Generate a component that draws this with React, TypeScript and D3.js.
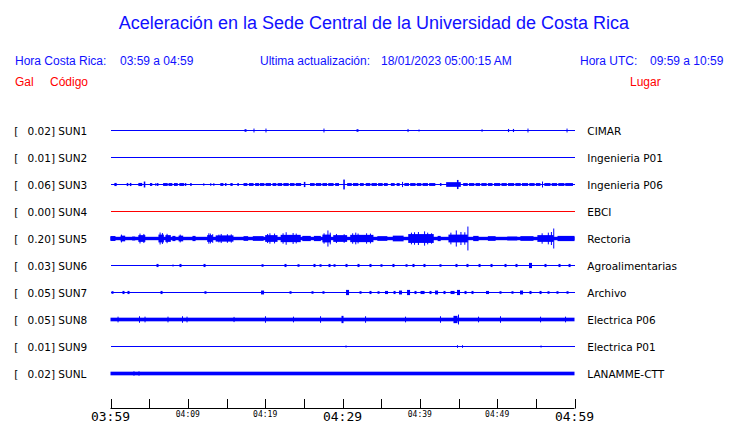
import React from "react";
import * as d3 from "d3";

const W = 740;
const H = 423;

const codes = ["SUN1", "SUN2", "SUN3", "SUN4", "SUN5", "SUN6", "SUN7", "SUN8", "SUN9", "SUNL"];
const peaks = ["0.02", "0.01", "0.06", "0.00", "0.20", "0.03", "0.05", "0.05", "0.01", "0.02"];
const places = ["CIMAR", "Ingenieria P01", "Ingenieria P06", "EBCI", "Rectoria", "Agroalimentarias", "Archivo", "Electrica P06", "Electrica P01", "LANAMME-CTT"];
const traceColors = ["#0000ff", "#0000ff", "#0000ff", "#ff0000", "#0000ff", "#0000ff", "#0000ff", "#0000ff", "#0000ff", "#0000ff"];
// background noise level (relative amplitude) of each trace
const baseAmp = [0, 0, 0, 0, 0.13, 0, 0, 0.14, 0, 0.14];

const tickMinutes = [0, 5, 10, 15, 20, 25, 30, 35, 40, 45, 50, 55, 60];
const labelMinutes = [0, 10, 20, 30, 40, 50, 60];
const tickLabels = ["03:59", "04:09", "04:19", "04:29", "04:39", "04:49", "04:59"];
const bigLabels = ["03:59", "04:29", "04:59"];

// events: [minutes after 03:59, duration (min), relative amplitude]
const sun1Events = [
  [17.46, 0.25, 0.1], [18.49, 0, 0.15], [20.04, 0, 0.15], [27.54, 0, 0.15], [31.94, 0.25, 0.1],
  [38.41, 0, 0.12], [39.83, 0, 0.08], [47.98, 0, 0.1], [51.47, 0.15, 0.12], [52.11, 0.15, 0.12],
  [53.92, 0, 0.15], [58.97, 0, 0.15],
];
const sun2Events: number[][] = [];
const sun3Events = [
  [0.65, 0.3, 0.12], [2.2, 0.2, 0.12], [2.6, 0.2, 0.12], [3.85, 0.5, 0.12], [4.4, 0.2, 0.23],
  [5.25, 0.3, 0.11], [5.85, 0.1, 0.11], [6.1, 0.2, 0.11], [7.1, 0.6, 0.11], [7.75, 0.5, 0.11],
  [8.45, 0.5, 0.11], [9.2, 0.6, 0.11], [9.7, 0.2, 0.11], [10.4, 0.2, 0.11], [12.05, 0.1, 0.1],
  [12.95, 0.1, 0.11], [13.35, 0.1, 0.11], [14.4, 0.4, 0.11], [14.9, 0.2, 0.11], [15.65, 0.3, 0.11],
  [16.5, 0.2, 0.11], [17.45, 0.5, 0.11], [18.2, 0.6, 0.11], [18.95, 0.5, 0.11], [19.6, 0.6, 0.11],
  [20.4, 0.7, 0.11], [21.2, 0.5, 0.11], [21.9, 0.6, 0.11], [22.7, 0.7, 0.11], [23.5, 0.6, 0.11],
  [24.3, 0.7, 0.11], [25.1, 0.2, 0.2], [26.1, 0.6, 0.11], [26.9, 0.7, 0.11], [27.7, 0.6, 0.11],
  [28.5, 0.7, 0.11], [29.3, 0.5, 0.11], [30.2, 0.2, 0.38], [30.9, 0.6, 0.11], [31.7, 0.7, 0.11],
  [32.5, 0.5, 0.11], [33.3, 0.6, 0.11], [34.1, 0.7, 0.11], [34.9, 0.6, 0.11], [35.6, 0.5, 0.11],
  [36.5, 0.5, 0.11], [37.2, 0.4, 0.11], [37.75, 0.1, 0.2], [38.3, 0.6, 0.11], [39.1, 0.7, 0.11],
  [39.9, 0.6, 0.11], [40.7, 0.7, 0.11], [41.6, 0.8, 0.11], [42.7, 0.2, 0.11], [44.35, 1.9, 0.18],
  [44.9, 0.2, 0.35], [45.9, 0.6, 0.11], [46.7, 0.7, 0.11], [47.5, 0.6, 0.11], [48.3, 0.7, 0.11],
  [49.1, 0.6, 0.11], [50.0, 0.8, 0.11], [50.9, 0.7, 0.11], [51.8, 0.8, 0.11], [52.7, 0.7, 0.11],
  [53.6, 0.8, 0.11], [54.5, 0.7, 0.11], [55.3, 0.6, 0.11], [55.85, 0.1, 0.23], [56.5, 0.8, 0.11],
  [57.4, 0.7, 0.11], [58.3, 0.8, 0.11], [59.3, 1.0, 0.11],
];
const sun4Events: number[][] = [];
const sun5Events = [
  [0.32, 0.65, 0.19], [1.6, 0.6, 0.22], [3.0, 0.4, 0.15], [4.05, 0.9, 0.26], [6.55, 0.7, 0.3],
  [6.4, 0.1, 0.46], [7.45, 0.7, 0.26], [8.2, 0.4, 0.2], [9.1, 0.6, 0.22], [10.8, 0.4, 0.2],
  [12.85, 0.7, 0.26], [12.7, 0.1, 0.4], [14.75, 2.3, 0.24], [14.3, 0.1, 0.35], [15.1, 0.1, 0.33],
  [17.5, 0.6, 0.18], [19.1, 1.4, 0.18], [20.8, 1.6, 0.26], [20.6, 0.1, 0.4], [23.3, 2.6, 0.28],
  [22.7, 0.1, 0.48], [23.6, 0.1, 0.42], [25.35, 1.1, 0.2], [26.75, 0.9, 0.2], [27.95, 1.1, 0.3],
  [28.1, 0.1, 0.62], [29.7, 1.8, 0.26], [32.5, 3.0, 0.28], [31.7, 0.1, 0.45], [33.1, 0.1, 0.4],
  [35.15, 1.3, 0.18], [37.2, 1.4, 0.22], [40.15, 3.3, 0.34], [40.6, 0.1, 0.55], [39.3, 0.1, 0.48],
  [42.5, 0.4, 0.2], [44.95, 2.5, 0.3], [44.7, 0.1, 0.62], [46.2, 0.1, 0.92], [47.25, 0.7, 0.2],
  [49.3, 1.0, 0.18], [51.95, 1.3, 0.15], [53.85, 1.7, 0.18], [56.25, 2.1, 0.26], [57.3, 0.1, 0.77],
  [58.9, 2.2, 0.2],
  [1.4, 0.1, 0.3], [3.8, 0.1, 0.38], [4.3, 0.1, 0.35], [6.7, 0.1, 0.42], [7.3, 0.1, 0.36],
  [9.0, 0.1, 0.3], [12.9, 0.1, 0.38], [13.2, 0.1, 0.33], [14.0, 0.1, 0.3], [15.6, 0.1, 0.32],
  [20.3, 0.1, 0.35], [21.2, 0.1, 0.38], [22.3, 0.1, 0.4], [24.0, 0.1, 0.38], [27.6, 0.1, 0.4],
  [28.4, 0.1, 0.45], [29.2, 0.1, 0.35], [30.2, 0.1, 0.33], [31.3, 0.1, 0.4], [32.0, 0.1, 0.38],
  [33.6, 0.1, 0.38], [38.9, 0.1, 0.45], [39.8, 0.1, 0.5], [41.0, 0.1, 0.45], [41.5, 0.1, 0.4],
  [44.0, 0.1, 0.45], [45.3, 0.1, 0.5], [45.8, 0.1, 0.48], [55.8, 0.1, 0.4], [56.6, 0.1, 0.45],
  [57.0, 0.1, 0.5],
];
const sun6Events = [
  [6.08, 0.26, 0.12], [8.02, 0, 0.08], [9.05, 0.26, 0.12], [12.16, 0.26, 0.12], [19.66, 0.26, 0.1],
  [22.63, 0.26, 0.12], [24.31, 0.26, 0.1], [26.38, 0.26, 0.12], [27.16, 0.26, 0.1], [28.32, 0.26, 0.12],
  [28.97, 0.26, 0.1], [30.52, 0.26, 0.12], [32.07, 0.26, 0.12], [33.62, 0.26, 0.12], [35.04, 0.26, 0.1],
  [36.59, 0.26, 0.12], [38.28, 0.26, 0.1], [39.18, 0.26, 0.12], [40.6, 0.26, 0.12], [42.67, 0.26, 0.1],
  [44.74, 0.26, 0.12], [46.16, 0.26, 0.12], [47.72, 0.26, 0.12], [49.27, 0.26, 0.12], [51.08, 0.26, 0.12],
  [52.5, 0.26, 0.12], [54.31, 0.39, 0.2], [56.25, 0.26, 0.12], [58.06, 0.26, 0.12], [59.36, 0.26, 0.12],
];
const sun7Events = [
  [0.26, 0.26, 0.1], [1.68, 0.26, 0.12], [2.33, 0.26, 0.12], [6.6, 0.26, 0.12], [12.28, 0.26, 0.1],
  [19.66, 0.39, 0.15], [23.28, 0.26, 0.1], [26.12, 0.26, 0.1], [27.54, 0.26, 0.1], [30.65, 0.39, 0.2],
  [32.33, 0.26, 0.1], [33.62, 0.26, 0.12], [34.66, 0.26, 0.1], [35.69, 0.39, 0.12], [36.73, 0.26, 0.12],
  [37.5, 0.39, 0.15], [38.54, 0.39, 0.2], [39.44, 0.26, 0.12], [40.35, 0.52, 0.12], [41.38, 0.26, 0.12],
  [42.16, 0.39, 0.15], [43.19, 0.26, 0.12], [44.23, 0.52, 0.12], [45.0, 0.39, 0.2], [45.91, 0.26, 0.12],
  [46.81, 0.26, 0.12], [48.75, 0.39, 0.12], [50.43, 0.26, 0.1], [51.98, 0.26, 0.1], [53.15, 0.39, 0.15],
  [54.31, 0.26, 0.12], [55.61, 0.26, 0.12], [56.64, 0.26, 0.1], [57.8, 0.26, 0.1], [59.1, 0.26, 0.1],
];
const sun8Events = [
  [0.91, 0, 0.22], [3.75, 0.13, 0.25], [4.4, 0, 0.22], [7.37, 0, 0.22], [9.31, 0.13, 0.25],
  [9.83, 0, 0.22], [15.91, 0, 0.2], [20.04, 0.13, 0.25], [23.66, 0.13, 0.22], [27.16, 0.13, 0.25],
  [30.0, 0.26, 0.28], [32.98, 0.13, 0.25], [38.15, 0.13, 0.22], [42.67, 0.13, 0.25], [44.61, 0.52, 0.28],
  [45.0, 0.13, 0.38], [47.59, 0.13, 0.22], [50.43, 0.13, 0.25], [55.61, 0.13, 0.22], [58.84, 0.13, 0.22],
];
const sun9Events = [
  [30.39, 0, 0.08], [44.87, 0.13, 0.1], [45.52, 0.13, 0.1], [55.61, 0, 0.08],
];
const sunLEvents = [
  [2.97, 0, 0.17], [3.62, 0, 0.17],
];
const allEvents = [sun1Events, sun2Events, sun3Events, sun4Events, sun5Events, sun6Events, sun7Events, sun8Events, sun9Events, sunLEvents];

const SANS = "'Liberation Sans', Arial, Helvetica, sans-serif";
const DV = "'DejaVu Sans', sans-serif";
const MONO = "'DejaVu Sans Mono', monospace";
const BLUE = "#1010ff";
const RED = "#ff0000";

export default function App() {
  const x = d3.scaleLinear().domain([0, 60]).range([110.5, 574.5]);
  const y = d3.scalePoint<string>().domain(codes).range([130.5, 373.5]);
  const amp = d3.scaleLinear().domain([0, 1]).range([0, 13]);
  const axisY = 408.5;

  return (
    <svg width={W} height={H} style={{ position: "absolute", left: 0, top: 0, background: "#fff" }}>
      <rect x={0} y={0} width={W} height={H} fill="#fff" />
      <text x={374} y={29} textAnchor="middle" fontFamily={SANS} fontSize={18} fill={BLUE}>
        Aceleración en la Sede Central de la Universidad de Costa Rica
      </text>
      <g fontFamily={SANS} fontSize={12} fill={BLUE}>
        <text x={15} y={65}>Hora Costa Rica:</text>
        <text x={120} y={65}>03:59 a 04:59</text>
        <text x={260} y={65}>Ultima actualización:</text>
        <text x={381} y={65}>18/01/2023 05:00:15 AM</text>
        <text x={580} y={65}>Hora UTC:</text>
        <text x={650} y={65}>09:59 a 10:59</text>
      </g>
      <g fontFamily={SANS} fontSize={12} fill={RED}>
        <text x={15} y={86}>Gal</text>
        <text x={50} y={86}>Código</text>
        <text x={630} y={86}>Lugar</text>
      </g>

      {codes.map((c, i) => {
        const cy = y(c) as number;
        const col = traceColors[i];
        const b = baseAmp[i];
        return (
          <g key={c}>
            <g fontFamily={DV} fontSize={10.5} fill="#000">
              <text x={14.3} y={cy + 4}>[</text>
              <text x={27.5} y={cy + 4}>{peaks[i]}] {c}</text>
              <text x={587.3} y={cy + 4}>{places[i]}</text>
            </g>
            {b > 0 ? (
              <rect x={x(0)} y={cy - amp(b)} width={x(60) - x(0)} height={2 * amp(b)} fill={col} />
            ) : (
              <line x1={x(0)} x2={x(60)} y1={cy} y2={cy} stroke={col} strokeWidth={1} shapeRendering="crispEdges" />
            )}
            {allEvents[i].map((e, j) => {
              const [t, d, a] = e;
              const x0 = x(t - d / 2);
              const w = Math.max(1, x(t + d / 2) - x0);
              const h = Math.max(1, amp(a));
              return <rect key={j} x={x0} y={cy - h} width={w} height={2 * h} fill={col} />;
            })}
          </g>
        );
      })}

      <g>
        <line x1={x(0)} x2={x(60)} y1={axisY} y2={axisY} stroke="#000" strokeWidth={1} />
        {tickMinutes.map((m) => (
          <line key={m} x1={Math.round(x(m)) + 0.5} x2={Math.round(x(m)) + 0.5} y1={399} y2={axisY} stroke="#000" strokeWidth={1} />
        ))}
        {labelMinutes.map((m, i) => {
          const lab = tickLabels[i];
          const big = bigLabels.includes(lab);
          return (
            <text key={m} x={x(m)} y={big ? 421 : 417} textAnchor="middle" fontFamily={MONO} fontSize={big ? 13 : 8} fill="#000">
              {lab}
            </text>
          );
        })}
      </g>
    </svg>
  );
}
